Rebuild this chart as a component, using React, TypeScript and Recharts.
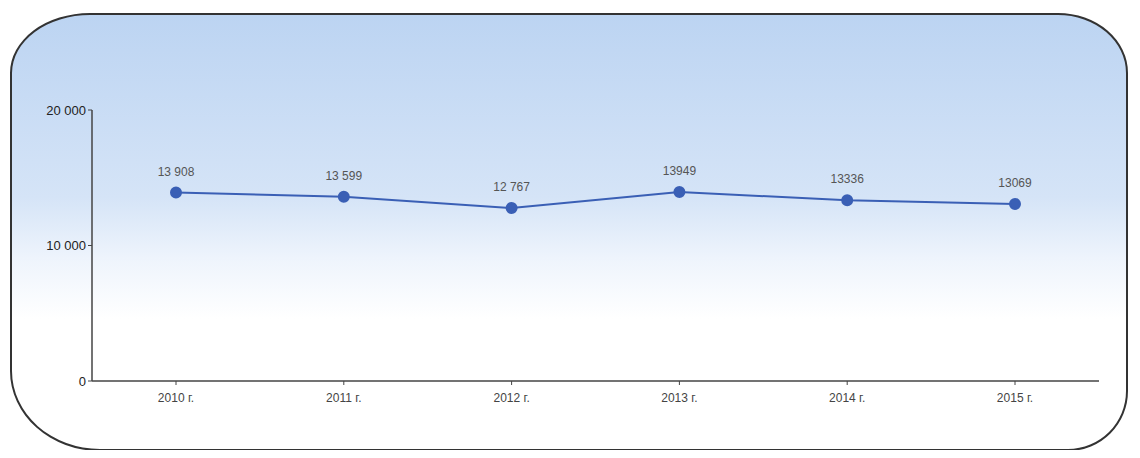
import { LineChart, Line, XAxis, YAxis, LabelList } from "recharts";

const years = ["2010 г.", "2011 г.", "2012 г.", "2013 г.", "2014 г.", "2015 г."];
const values = [13908, 13599, 12767, 13949, 13336, 13069];
const valueLabels = ["13 908", "13 599", "12 767", "13949", "13336", "13069"];
const yTicks = [0, 10000, 20000];

const data = years.map((year, i) => ({ year, value: values[i], label: valueLabels[i] }));

const fmt = (v: number) => v.toLocaleString("ru-RU").replace(/\u00a0/g, " ");

export default function App() {
  return (
    <div style={{ position: "relative", width: 1140, height: 458, margin: -8, background: "#fff", overflow: "hidden" }}>
      <div
        style={{
          position: "absolute",
          left: 10,
          top: 13,
          width: 1114,
          height: 434,
          border: "2px solid #333",
          borderRadius: "80px 70px 60px 90px / 60px 60px 60px 80px",
          background: "linear-gradient(to bottom, #bcd4f2 0%, #d5e4f7 42%, #eef4fc 56%, #ffffff 70%, #ffffff 100%)",
        }}
      />
      <div style={{ position: "absolute", left: 0, top: 0 }}>
        <LineChart
          width={1140}
          height={458}
          data={data}
          margin={{ top: 110, right: 41, left: 32, bottom: 47 }}
          style={{ fontFamily: "'Liberation Sans', Arial, sans-serif" }}
        >
          <XAxis
            dataKey="year"
            padding={{ left: 84, right: 84 }}
            axisLine={{ stroke: "#444", strokeWidth: 1.5 }}
            tickLine={{ stroke: "#444" }}
            tick={{ fill: "#444", fontSize: 12 }}
            tickSize={4}
            height={30}
            dy={6}
          />
          <YAxis
            domain={[0, 20000]}
            ticks={yTicks}
            tickFormatter={fmt}
            axisLine={{ stroke: "#444", strokeWidth: 1.5 }}
            tickLine={{ stroke: "#444" }}
            tick={{ fill: "#222", fontSize: 13 }}
            tickSize={4}
            width={60}
          />
          <Line
            type="linear"
            dataKey="value"
            stroke="#3a5fb5"
            strokeWidth={2}
            dot={{ r: 5, fill: "#3a5fb5", stroke: "#3a5fb5" }}
            isAnimationActive={false}
          >
            <LabelList dataKey="label" position="top" offset={17} style={{ fill: "#555", fontSize: 12 }} />
          </Line>
        </LineChart>
      </div>
    </div>
  );
}
